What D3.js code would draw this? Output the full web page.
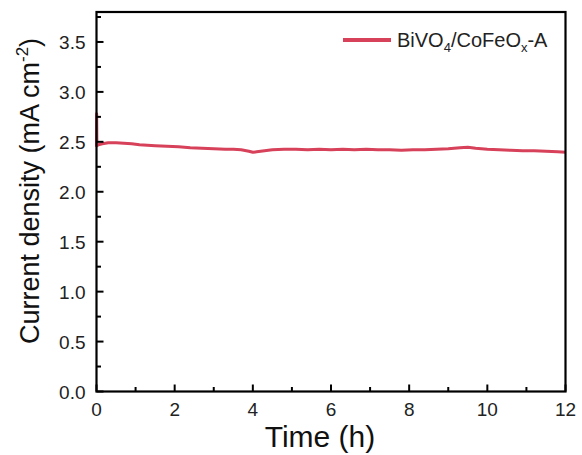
<!DOCTYPE html>
<html>
<head>
<meta charset="utf-8">
<script src="https://cdn.jsdelivr.net/npm/d3@7"></script>
<style>
  body { margin: 0; background: #fff; }
  svg { font-family: Arial, "Liberation Sans", sans-serif; }
</style>
</head>
<body>
<svg width="582" height="455"></svg>
<script>
// Time (h) and current density (mA cm-2)
const timeH = [0, 0.004, 0.01, 0.05, 0.15, 0.3, 0.5, 0.7, 0.9, 1.1, 1.3, 1.5, 1.8, 2.1, 2.4, 2.7,
  3.0, 3.3, 3.5, 3.7, 3.9, 4.0, 4.1, 4.3, 4.5, 4.8, 5.1, 5.4, 5.7, 6.0, 6.3, 6.6, 6.9, 7.2,
  7.5, 7.8, 8.1, 8.4, 8.7, 9.0, 9.3, 9.5, 9.7, 10.0, 10.3, 10.6, 10.9, 11.2, 11.5, 11.8, 12.0];
const current = [2.45, 2.78, 2.46, 2.47, 2.48, 2.49, 2.49, 2.485, 2.48, 2.47, 2.465, 2.46, 2.455, 2.45, 2.44, 2.435,
  2.43, 2.425, 2.425, 2.42, 2.405, 2.395, 2.40, 2.41, 2.42, 2.425, 2.425, 2.42, 2.425, 2.42, 2.425, 2.42, 2.425, 2.42,
  2.42, 2.415, 2.42, 2.42, 2.425, 2.43, 2.44, 2.445, 2.435, 2.425, 2.42, 2.415, 2.41, 2.41, 2.405, 2.40, 2.395];
const xTicks = [0, 2, 4, 6, 8, 10, 12];
const xMinor = [1, 3, 5, 7, 9, 11];
const yTicks = [0.0, 0.5, 1.0, 1.5, 2.0, 2.5, 3.0, 3.5];
const yMinor = [0.25, 0.75, 1.25, 1.75, 2.25, 2.75, 3.25, 3.75];

const margin = {left: 96.5, top: 12, right: 16.5, bottom: 63.5};
const width = 582, height = 455;
const svg = d3.select("svg");

const x = d3.scaleLinear().domain([0, 12]).range([margin.left, width - margin.right]);
const y = d3.scaleLinear().domain([0, 3.8]).range([height - margin.bottom, margin.top]);

const lineColor = "#d7415a";
const font = "Arial, 'Liberation Sans', sans-serif";

// data line
const data = timeH.map((t, i) => ({t: t, j: current[i]}));
svg.append("path")
   .datum(data)
   .attr("fill", "none")
   .attr("stroke", lineColor)
   .attr("stroke-width", 3)
   .attr("stroke-linejoin", "round")
   .attr("d", d3.line().x(d => x(d.t)).y(d => y(d.j)));

// frame
svg.append("rect")
   .attr("x", x(0)).attr("y", y(3.8))
   .attr("width", x(12) - x(0)).attr("height", y(0) - y(3.8))
   .attr("fill", "none").attr("stroke", "#000").attr("stroke-width", 2.2);

// tick marks point inward, drawn by hand from the scales
const ticks = svg.append("g").attr("stroke", "#000").attr("stroke-width", 2);
ticks.selectAll(".xt")
     .data(xTicks.map(v => ({v: v, len: 7})).concat(xMinor.map(v => ({v: v, len: 4.5}))))
     .join("line")
     .attr("x1", d => x(d.v)).attr("x2", d => x(d.v))
     .attr("y1", y(0)).attr("y2", d => y(0) - d.len);
ticks.selectAll(".yt")
     .data(yTicks.map(v => ({v: v, len: 7})).concat(yMinor.map(v => ({v: v, len: 4.5}))))
     .join("line")
     .attr("y1", d => y(d.v)).attr("y2", d => y(d.v))
     .attr("x1", x(0)).attr("x2", d => x(0) + d.len);

// tick labels
svg.append("g").selectAll("text")
   .data(xTicks).join("text")
   .attr("x", d => x(d)).attr("y", y(0) + 24)
   .attr("text-anchor", "middle").attr("font-size", 19).attr("fill", "#222")
   .text(d3.format("d"));
svg.append("g").selectAll("text")
   .data(yTicks).join("text")
   .attr("x", x(0) - 11).attr("y", d => y(d) + 7)
   .attr("text-anchor", "end").attr("font-size", 19).attr("fill", "#222")
   .text(d3.format(".1f"));

// axis titles
svg.append("text")
   .attr("x", 320).attr("y", 447)
   .attr("text-anchor", "middle").attr("font-size", 30).attr("fill", "#111")
   .text("Time (h)");

const yTitle = svg.append("text")
   .attr("transform", "translate(39,191) rotate(-90)")
   .attr("text-anchor", "middle").attr("font-size", 27).attr("fill", "#111");
yTitle.append("tspan").text("Current density (mA cm");
yTitle.append("tspan").attr("font-size", 17).attr("dy", -11).text("-2");
yTitle.append("tspan").attr("dy", 11).text(")");

// legend
const leg = svg.append("g");
leg.append("line")
   .attr("x1", 343).attr("x2", 391).attr("y1", 40).attr("y2", 40)
   .attr("stroke", lineColor).attr("stroke-width", 4);
const lt = leg.append("text").attr("x", 397).attr("y", 47).attr("font-size", 20).attr("fill", "#222");
lt.append("tspan").text("BiVO");
lt.append("tspan").attr("font-size", 13).attr("dy", 5).text("4");
lt.append("tspan").attr("dy", -5).text("/CoFeO");
lt.append("tspan").attr("font-size", 13).attr("dy", 5).text("x");
lt.append("tspan").attr("dy", -5).text("-A");
</script>
</body>
</html>
